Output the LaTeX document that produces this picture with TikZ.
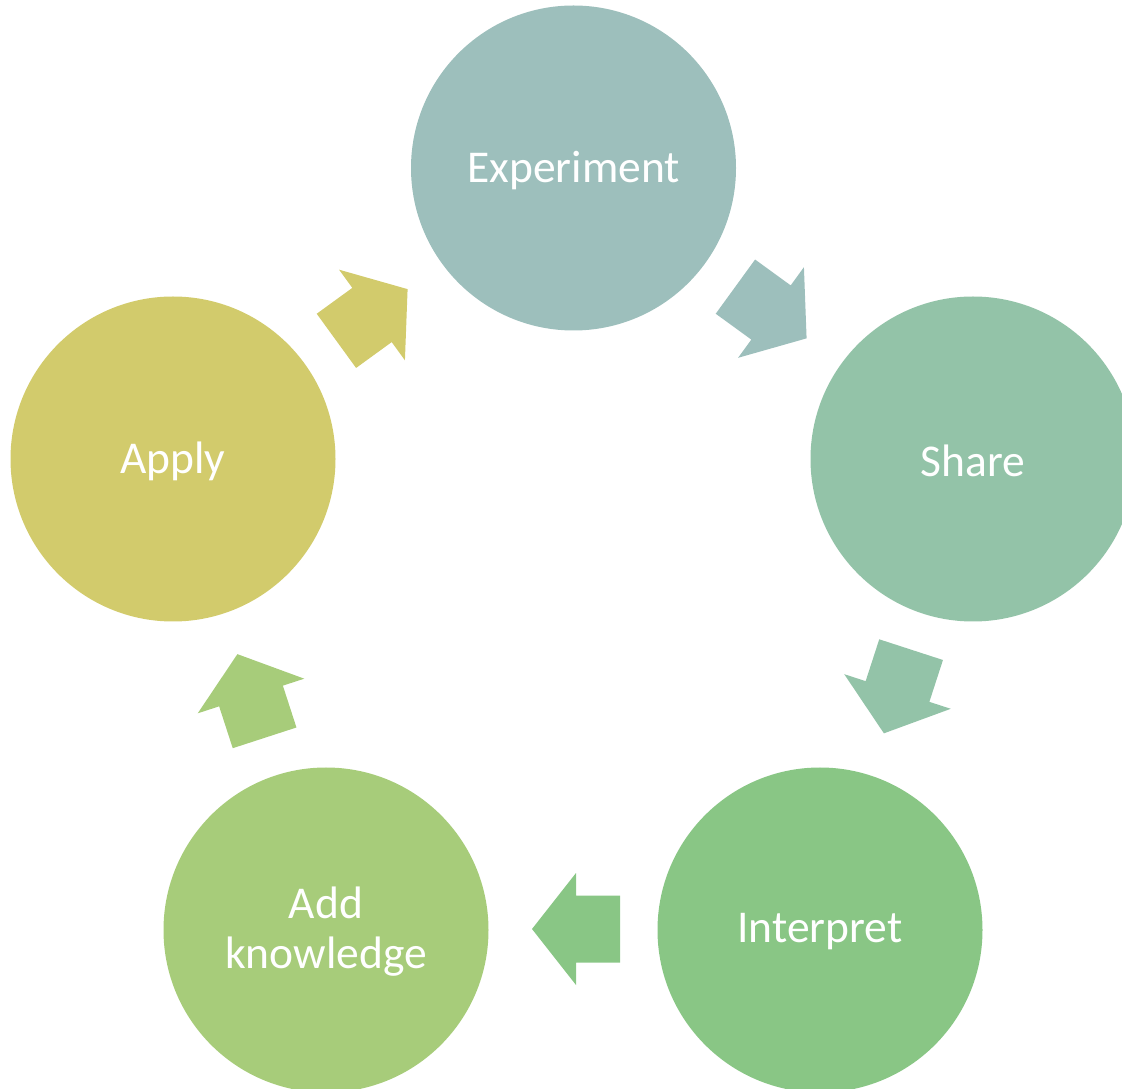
\documentclass[tikz,border=0pt]{standalone}
\usepackage{fontspec}
\setmainfont{Carlito}
\definecolor{cExp}{HTML}{9DBFBC}
\definecolor{cShare}{HTML}{93C3A8}
\definecolor{cInt}{HTML}{89C685}
\definecolor{cAdd}{HTML}{A7CC7A}
\definecolor{cApply}{HTML}{D2CB6C}
\newcommand\blockarr[5]{%
  \fill[#4, shift={(#1,#2)}, rotate=#3] (-44,-33.5) coordinate (#5-tail) -- (0,-33.5) -- (0,-56) -- (44,0) coordinate (#5-tip) -- (0,56) -- (0,33.5) -- (-44,33.5) -- cycle;}
\begin{document}
\begin{tikzpicture}[x=1pt,y=1pt,
  stage/.style={circle, minimum size=325pt, inner sep=0pt, text=white,
    font=\fontsize{45.5}{50}\selectfont, align=center},
  lbl/.style={text=white, font=\fontsize{45.5}{50}\selectfont, align=center, inner sep=0pt}]
\useasboundingbox (0,0) rectangle (1122,1088);
\clip (0,0) rectangle (1122,1088);
\node[stage, fill=cExp]   (exp)   at (573.5,920) {};
\node[stage, fill=cShare] (share) at (973,629)   {};
\node[stage, fill=cInt]   (int)   at (820,158)   {};
\node[stage, fill=cAdd]   (add)   at (326,158)   {};
\node[stage, fill=cApply] (apply) at (173,629)   {};
\node[lbl] (expl)   at ([yshift=-3pt]exp.center)   {Experiment};
\node[lbl] (sharel) at ([yshift=-2pt]share.center) {Share};
\node[lbl] (intl)   at ([yshift=-2pt]int.center)   {Interpret};
\node[lbl] (addl)   at ([yshift=-2pt]add.center)   {Add\\knowledge};
\node[lbl] (applyl) at ([yshift=-2pt]apply.center) {Apply};
\blockarr{771}{775.5}{-36}{cExp}{a1}
\blockarr{897.5}{396.5}{-108}{cShare}{a2}
\blockarr{576}{159}{180}{cInt}{a3}
\blockarr{251}{392}{108}{cAdd}{a4}
\blockarr{372}{773}{36}{cApply}{a5}
\end{tikzpicture}
\end{document}
